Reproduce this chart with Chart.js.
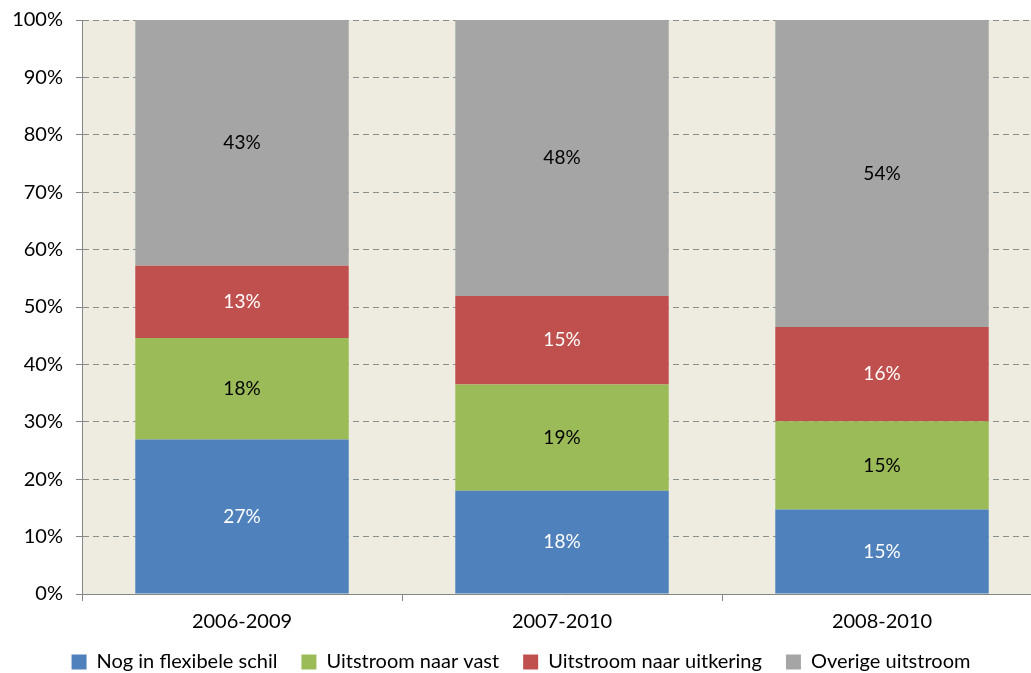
<!DOCTYPE html>
<html>
<head>
<meta charset="utf-8">
<script src="https://cdn.jsdelivr.net/npm/chart.js@4/dist/chart.umd.min.js"></script>
<style>
  html, body { margin:0; padding:0; background:#fff; overflow:hidden; }
  #wrap { position:absolute; left:0; top:0; width:1042px; height:673px; }
</style>
</head>
<body>
<div id="wrap"><canvas id="c" width="1042" height="673"></canvas></div>
<script>
const categories = ['2006-2009', '2007-2010', '2008-2010'];
const seriesNames = ['Nog in flexibele schil', 'Uitstroom naar vast', 'Uitstroom naar uitkering', 'Overige uitstroom'];
const nogFlex = [26.9, 18.0, 14.7];
const naarVast = [17.7, 18.5, 15.4];
const naarUitkering = [12.6, 15.4, 16.4];
const overige = [42.8, 48.1, 53.5];
const yTicks = [0, 10, 20, 30, 40, 50, 60, 70, 80, 90, 100];

const colors = ['#4F81BD', '#9BBB59', '#C0504D', '#A5A5A5'];
const labelColors = ['#ffffff', '#000000', '#ffffff', '#000000'];
const FONT = 'Lato, "Open Sans", sans-serif';

const bgPlugin = {
  id: 'bg',
  beforeDraw(chart) {
    const {ctx, chartArea: a} = chart;
    ctx.save();
    ctx.fillStyle = '#EEEBE0';
    ctx.fillRect(a.left, a.top, a.right - a.left, a.bottom - a.top);
    ctx.restore();
  }
};

const labelPlugin = {
  id: 'vals',
  afterDatasetsDraw(chart) {
    const ctx = chart.ctx;
    ctx.save();
    ctx.font = '19px ' + FONT;
    ctx.textAlign = 'center';
    ctx.textBaseline = 'middle';
    chart.data.datasets.forEach((ds, i) => {
      const meta = chart.getDatasetMeta(i);
      meta.data.forEach((el, j) => {
        const p = el.getCenterPoint();
        ctx.fillStyle = labelColors[i];
        ctx.fillText(Math.round(ds.data[j]) + '%', p.x, p.y);
      });
    });
    ctx.restore();
  }
};

const dataSets = [nogFlex, naarVast, naarUitkering, overige];

new Chart(document.getElementById('c'), {
  type: 'bar',
  data: {
    labels: categories,
    datasets: dataSets.map((d, i) => ({
      label: seriesNames[i],
      data: d,
      backgroundColor: colors[i],
      borderWidth: 0,
      categoryPercentage: 1.0,
      barPercentage: 0.667
    }))
  },
  options: {
    responsive: false,
    animation: false,
    layout: { padding: { top: 0, left: 0, right: 0, bottom: -9 } },
    plugins: {
      legend: {
        position: 'bottom',
        labels: {
          font: { family: FONT, size: 20 },
          color: '#000',
          boxWidth: 15,
          boxHeight: 15,
          padding: 24
        }
      },
      tooltip: { enabled: false }
    },
    scales: {
      x: {
        stacked: true,
        offset: true,
        afterFit(s) { s.height = 34; },
        grid: {
          offset: true,
          drawOnChartArea: false,
          drawTicks: true,
          tickLength: 7,
          color: '#868686'
        },
        border: { color: '#868686', width: 1 },
        ticks: {
          font: { family: FONT, size: 20 },
          color: '#000',
          padding: 9
        }
      },
      y: {
        stacked: true,
        min: 0,
        max: 100,
        afterFit(s) { s.width = 82; s.paddingTop = 20; },
        afterBuildTicks(s) { s.ticks = yTicks.map(v => ({ value: v })); },
        grid: {
          color: '#8C8C8C',
          tickLength: 6,
          tickColor: '#868686',
          tickBorderDash: [],
          drawTicks: true
        },
        border: { color: '#868686', width: 1, dash: [6, 4] },
        ticks: {
          font: { family: FONT, size: 20 },
          color: '#000',
          padding: 13,
          callback: v => v + '%'
        }
      }
    }
  },
  plugins: [bgPlugin, labelPlugin]
});
</script>
</body>
</html>
